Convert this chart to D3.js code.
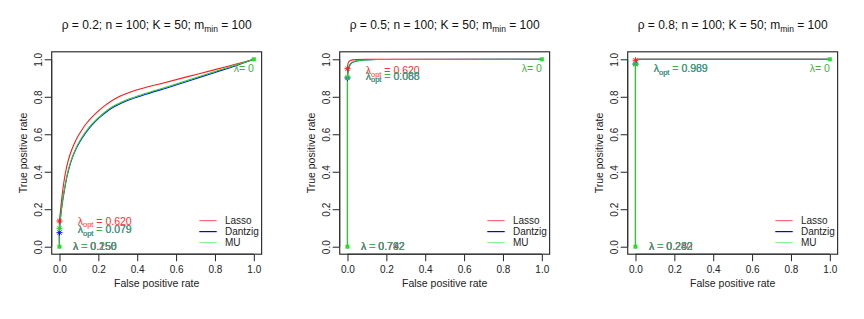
<!DOCTYPE html>
<html>
<head>
<meta charset="utf-8">
<script src="https://cdn.jsdelivr.net/npm/d3@7"></script>
<style>
  body { margin: 0; background: #fff; }
  svg { font-family: "Liberation Sans", Arial, sans-serif; }
</style>
</head>
<body>
<div class="container"></div>
<script>
// ROC curves, one panel per rho value
const rho = [0.2, 0.5, 0.8];
const methods = ["Lasso", "Dantzig", "MU"];
const lineColors = ["#ff1a1a", "#1010ff", "#22d022"];
const legendColors = ["#ff6f6f", "#0000ff", "#8cf58c"];
const textColors = ["#ff3030", "#3040ff", "#3fb23f"];

const lassoFpr = [
    [0, 0, 0.004, 0.01, 0.018, 0.03, 0.045, 0.064, 0.085, 0.11, 0.14, 0.18, 0.23, 0.3, 0.4, 0.52, 0.65, 0.8, 0.9, 1],
    [0, 0, 0.001, 0.003, 0.006, 0.012, 0.025, 0.05, 0.1, 1],
    [0, 0, 0.001, 0.004, 0.01, 1],
];
const lassoTpr = [
    [0, 0.14, 0.18, 0.24, 0.31, 0.39, 0.46, 0.52, 0.57, 0.615, 0.66, 0.705, 0.75, 0.797, 0.837, 0.87, 0.905, 0.945, 0.972, 1],
    [0, 0.95, 0.965, 0.977, 0.986, 0.993, 0.997, 0.999, 1, 1],
    [0, 0.99, 0.996, 0.999, 1, 1],
];
const dantzigFpr = [
    [0, 0, 0.006, 0.015, 0.026, 0.04, 0.058, 0.08, 0.105, 0.133, 0.168, 0.213, 0.27, 0.35, 0.45, 0.56, 0.68, 0.8, 0.9, 1],
    [0, 0, 0.002, 0.005, 0.01, 0.02, 0.04, 0.08, 0.15, 1],
    [0, 0, 0.002, 0.006, 0.015, 1],
];
const dantzigTpr = [
    [0, 0.075, 0.16, 0.235, 0.305, 0.38, 0.45, 0.51, 0.56, 0.605, 0.65, 0.695, 0.74, 0.78, 0.815, 0.85, 0.89, 0.93, 0.963, 1],
    [0, 0.9, 0.925, 0.947, 0.965, 0.98, 0.99, 0.996, 0.999, 1],
    [0, 0.97, 0.985, 0.995, 1, 1],
];
const muFpr = [
    [0, 0, 0.006, 0.015, 0.026, 0.04, 0.058, 0.08, 0.105, 0.133, 0.168, 0.213, 0.27, 0.35, 0.45, 0.56, 0.68, 0.8, 0.9, 1],
    [0, 0, 0.002, 0.005, 0.01, 0.02, 0.04, 0.08, 0.15, 1],
    [0, 0, 0.002, 0.006, 0.015, 1],
];
const muTpr = [
    [0, 0.1, 0.165, 0.24, 0.31, 0.385, 0.455, 0.515, 0.565, 0.61, 0.655, 0.7, 0.745, 0.785, 0.82, 0.855, 0.895, 0.935, 0.967, 1],
    [0, 0.905, 0.93, 0.95, 0.968, 0.982, 0.991, 0.996, 0.999, 1],
    [0, 0.973, 0.987, 0.996, 1, 1],
];

// optimal lambda points (fpr = 0) and their labels, per method per panel
const optTpr = [[0.137, 0.95, 0.995], [0.075, 0.9, 0.975], [0.098, 0.905, 0.973]];
const optLabelTpr = [[0.137, 0.94, null], [0.093, 0.91, 0.95], [0.093, 0.91, 0.95]];
const optLambda = [["0.620", "0.620", null], ["0.079", "0.088", "0.989"], ["0.079", "0.065", "0.969"]];
const maxLambda = [["0.250", "0.792", "0.240"], ["0.150", "0.742", "0.282"], ["0.258", "0.782", "0.262"]];

const xTicks = [0, 0.2, 0.4, 0.6, 0.8, 1.0];
const yTicks = [0, 0.2, 0.4, 0.6, 0.8, 1.0];

const W = 864, H = 319;
const panelW = 288;
const box = { left: 51.7, right: 261.6, top: 51.8, bottom: 254.2 };

const svg = d3.select(".container").append("svg")
    .attr("width", W).attr("height", H);

const x = d3.scaleLinear().domain([-0.04, 1.04]).range([box.left, box.right]);
const y = d3.scaleLinear().domain([-0.04, 1.04]).range([box.bottom, box.top]);
// smooth curve for the first panel, straight segments where the corner is sharp
const smoothLine = d3.line().x((d) => x(d[0])).y((d) => y(d[1])).curve(d3.curveCatmullRom.alpha(0.5));
const plainLine = d3.line().x((d) => x(d[0])).y((d) => y(d[1]));

const curves = [[lassoFpr, lassoTpr], [dantzigFpr, dantzigTpr], [muFpr, muTpr]];

const star = (g, cx, cy, color) => {
    const r = 3;
    g.append("path")
        .attr("d", `M${cx - r},${cy}H${cx + r}M${cx},${cy - r}V${cy + r}` +
            `M${cx - r * 0.7},${cy - r * 0.7}L${cx + r * 0.7},${cy + r * 0.7}` +
            `M${cx - r * 0.7},${cy + r * 0.7}L${cx + r * 0.7},${cy - r * 0.7}`)
        .attr("stroke", color)
        .attr("stroke-width", 1)
        .attr("fill", "none");
};

rho.forEach((r, p) => {
    const g = svg.append("g").attr("transform", `translate(${p * panelW}, 0)`);
    const cxMid = (box.left + box.right) / 2;

    // title
    const title = g.append("text")
        .attr("x", cxMid).attr("y", 28.5)
        .attr("text-anchor", "middle")
        .attr("font-size", "12px")
        .attr("fill", "#111");
    title.append("tspan").text(`ρ = ${r}; n = 100; K = 50; m`);
    title.append("tspan").attr("font-size", "8.5px").attr("dy", 3).text("min");
    title.append("tspan").attr("dy", -3).text(" = 100");

    // axes
    const xAxis = g.append("g")
        .attr("transform", `translate(0, ${box.bottom})`)
        .call(d3.axisBottom(x).tickValues(xTicks).tickFormat(d3.format(".1f")).tickSize(7).tickSizeOuter(0));
    xAxis.select(".domain").attr("d", `M${x(0)},0H${x(1)}`).attr("stroke", "#222");
    xAxis.selectAll(".tick line").attr("stroke", "#222");
    xAxis.selectAll(".tick text")
        .attr("dy", null).attr("y", 18.8)
        .attr("font-size", "10px")
        .attr("font-family", "Liberation Sans, Arial, sans-serif")
        .attr("fill", "#222");

    const yAxis = g.append("g")
        .attr("transform", `translate(${box.left}, 0)`)
        .call(d3.axisLeft(y).tickValues(yTicks).tickFormat(d3.format(".1f")).tickSize(7).tickSizeOuter(0));
    yAxis.select(".domain").attr("d", `M0,${y(0)}V${y(1)}`).attr("stroke", "#222");
    yAxis.selectAll(".tick line").attr("stroke", "#222");
    yAxis.selectAll(".tick text")
        .attr("transform", "rotate(-90)")
        .attr("x", 0).attr("y", -9.3).attr("dy", null)
        .attr("text-anchor", "middle")
        .attr("font-size", "10px")
        .attr("font-family", "Liberation Sans, Arial, sans-serif")
        .attr("fill", "#222");

    g.append("text")
        .attr("x", cxMid).attr("y", 287)
        .attr("text-anchor", "middle")
        .attr("font-size", "10.5px")
        .attr("fill", "#222")
        .text("False positive rate");

    g.append("text")
        .attr("transform", `translate(26.5, ${(box.top + box.bottom) / 2}) rotate(-90)`)
        .attr("text-anchor", "middle")
        .attr("font-size", "10.5px")
        .attr("fill", "#222")
        .text("True positive rate");

    // box
    g.append("rect")
        .attr("x", box.left).attr("y", box.top)
        .attr("width", box.right - box.left).attr("height", box.bottom - box.top)
        .attr("fill", "none").attr("stroke", "#333").attr("stroke-width", 1.2);

    // curves
    curves.forEach(([fpr, tpr], m) => {
        const pts = fpr[p].map((f, i) => [f, tpr[p][i]]);
        g.append("path")
            .attr("d", (p === 0 ? smoothLine : plainLine)(pts))
            .attr("fill", "none")
            .attr("stroke", lineColors[m])
            .attr("stroke-width", 1.1);
    });

    // end points
    [[0, 0], [1, 1]].forEach((d) => {
        g.append("rect")
            .attr("x", x(d[0]) - 2).attr("y", y(d[1]) - 2)
            .attr("width", 4).attr("height", 4)
            .attr("fill", "#22e022");
    });

    // optimal lambda markers and labels
    methods.forEach((name, m) => {
        star(g, x(0), y(optTpr[m][p]), lineColors[m]);
    });
    methods.forEach((name, m) => {
        if (optLambda[m][p] === null) return;
        const t = g.append("text")
            .attr("x", x(0.094)).attr("y", y(optLabelTpr[m][p]) + 3.8)
            .attr("font-size", "10.5px")
            .attr("fill", textColors[m]);
        t.append("tspan").text("λ");
        t.append("tspan").attr("font-size", "7.5px").attr("dy", 2.5).text("opt");
        t.append("tspan").attr("dy", -2.5).text(` = ${optLambda[m][p]}`);
    });

    // lambda max labels
    methods.forEach((name, m) => {
        g.append("text")
            .attr("x", x(0.07)).attr("y", y(0) + 3.5)
            .attr("font-size", "10.5px")
            .attr("fill", textColors[m])
            .text(`λ = ${maxLambda[m][p]}`);
    });

    g.append("text")
        .attr("x", x(1)).attr("y", y(0.95) + 3.8)
        .attr("text-anchor", "end")
        .attr("font-size", "10.5px")
        .attr("fill", textColors[2])
        .text("λ= 0");

    // legend
    const lg = g.append("g").attr("transform", `translate(${box.right - 62.3}, 220.6)`);
    methods.forEach((name, m) => {
        const row = lg.append("g").attr("transform", `translate(0, ${m * 11})`);
        row.append("line")
            .attr("x1", 0).attr("x2", 17.4)
            .attr("stroke", legendColors[m]).attr("stroke-width", 1.2);
        row.append("text")
            .attr("x", 25.7).attr("y", 3.6)
            .attr("font-size", "10px")
            .attr("fill", "#222")
            .text(name);
    });
});
</script>
</body>
</html>
